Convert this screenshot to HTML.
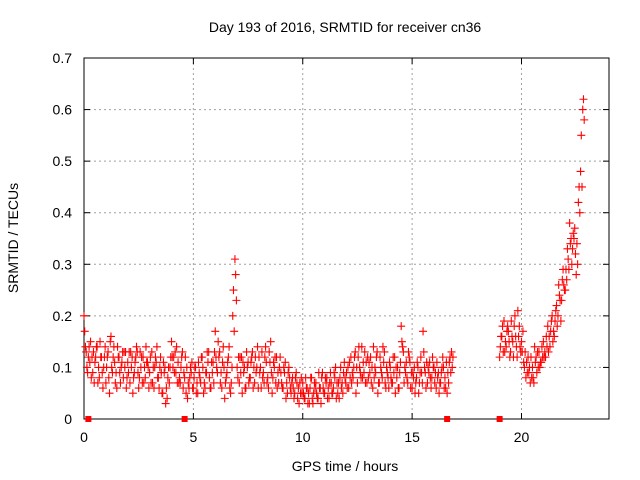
<!DOCTYPE html>
<html><head><meta charset="utf-8"><style>
body{margin:0;background:#fff}
svg{display:block;font-family:"Liberation Sans",sans-serif}
</style></head><body>
<svg id="chart" width="640" height="480" xmlns="http://www.w3.org/2000/svg">
<text x="345" y="32" text-anchor="middle" font-size="14">Day 193 of 2016, SRMTID for receiver cn36</text>
<text x="18" y="238" text-anchor="middle" font-size="14" transform="rotate(-90 18 238)">SRMTID / TECUs</text>
<text x="345" y="471" text-anchor="middle" font-size="14">GPS time / hours</text>
<g id="grid"></g>
<g id="axes"></g>
<g id="marks"></g>
</svg>
<script>
const xTicks=[0,5,10,15,20];
const yTicks=[0,0.1,0.2,0.3,0.4,0.5,0.6,0.7];
const yTickLabels=["0","0.1","0.2","0.3","0.4","0.5","0.6","0.7"];
const seg1Start=0.0;
const seg1Values=[.20,.13,.12,.15,.09,.11,.14,.08,.12,.10,
.07,.13,.15,.09,.11,.06,.12,.10,.08,.13,
.11,.07,.12,.09,.14,.06,.10,.12,.08,.11,
.09,.13,.06,.11,.08,.12,.05,.10,.04,.07,
.15,.12,.09,.11,.07,.13,.08,.10,.06,.09,
.06,.10,.05,.08,.12,.07,.09,.13,.06,.11,
.17,.09,.13,.06,.10,.08,.12,.05,.20,.31,
.10,.07,.12,.09,.06,.11,.08,.13,.07,.10,
.12,.06,.09,.14,.08,.11,.05,.10,.12,.07,
.09,.06,.11,.05,.08,.07,.04,.09,.06,.05,
.07,.04,.06,.03,.08,.05,.07,.04,.06,.09,
.05,.08,.04,.07,.06,.10,.05,.08,.07,.11,
.09,.06,.12,.08,.13,.07,.10,.14,.09,.11,
.08,.12,.06,.10,.13,.07,.09,.11,.06,.08,
.10,.07,.12,.08,.06,.18,.13,.09,.07,.11,
.06,.10,.08,.05,.12,.17,.09,.07,.11,.08,
.10,.06,.09,.07,.12,.08,.05,.11,.13];
const seg1ValuesB=[.17,.10,.14,.08,.13,.12,.07,.15,.09,.12,
.10,.08,.16,.12,.07,.14,.09,.11,.13,.06,
.09,.13,.05,.11,.13,.08,.12,.07,.14,.10,
.12,.07,.10,.14,.06,.09,.11,.03,.08,.10,
.12,.09,.14,.07,.10,.06,.12,.04,.08,.11,
.08,.05,.11,.07,.10,.06,.13,.08,.11,.07,
.12,.15,.07,.11,.04,.09,.14,.07,.25,.28,
.08,.12,.05,.10,.13,.07,.11,.06,.12,.14,
.09,.13,.07,.11,.06,.15,.08,.12,.06,.10,
.07,.10,.04,.09,.06,.08,.05,.07,.03,.08,
.05,.08,.03,.06,.04,.07,.05,.09,.03,.06,
.08,.04,.07,.05,.09,.04,.07,.10,.05,.08,
.06,.11,.07,.10,.05,.12,.09,.08,.13,.07,
.11,.07,.14,.09,.05,.12,.08,.13,.10,.06,
.08,.12,.05,.10,.09,.15,.07,.11,.13,.06,
.09,.05,.11,.07,.09,.13,.06,.10,.08,.12,
.07,.11,.05,.09,.10,.06,.09,.12,.10];
const seg1ValuesC=[.14,.09,.11,.12,.07,.14,.10,.12,.06,.14,
.12,.05,.10,.14,.09,.12,.07,.13,.10,.08,
.13,.10,.08,.12,.09,.13,.07,.10,.11,.06,
.07,.10,.12,.08,.10,.05,.09,.06,.10,.12,
.10,.13,.07,.08,.12,.09,.05,.07,.10,.06,
.10,.07,.09,.12,.05,.09,.11,.06,.09,.13,
.10,.12,.09,.14,.07,.11,.06,.10,.17,.23,
.12,.09,.11,.06,.10,.08,.12,.10,.09,.06,
.10,.08,.12,.07,.13,.09,.11,.07,.09,.12,
.06,.09,.07,.10,.05,.06,.08,.04,.07,.05,
.04,.06,.05,.08,.03,.06,.04,.06,.08,.05,
.07,.06,.09,.05,.08,.07,.04,.06,.09,.07,
.10,.08,.09,.12,.10,.14,.08,.11,.07,.12,
.09,.10,.08,.12,.07,.10,.14,.07,.09,.11,
.07,.09,.10,.06,.11,.14,.10,.08,.12,.09,
.08,.07,.10,.09,.07,.10,.11,.09,.06,.10,
.09,.08,.07,.10,.06,.11,.07,.09,.12];
const seg2Start=19.0;
const seg2Values=[.12,.16,.19,.14,.17,.13,.15,.20,.12,.18,
.15,.11,.08,.12,.07,.10,.14,.09,.13,.11,
.15,.12,.18,.14,.20,.16,.22,.26,.19,.29,
.25,.33,.38,.30,.35,.28,.42,.48,.60];
const seg2ValuesB=[.14,.18,.13,.17,.15,.19,.12,.16,.21,.14,
.13,.10,.11,.09,.12,.08,.11,.13,.10,.14,
.12,.16,.13,.17,.15,.19,.18,.24,.23,.26,
.29,.31,.34,.33,.37,.34,.45,.55,.62];
const seg2ValuesC=[.16,.13,.15,.18,.12,.16,.18,.14,.16,.13,
.17,.13,.09,.10,.08,.07,.12,.10,.11,.12,
.13,.14,.16,.19,.17,.21,.20,.23,.27,.25,
.27,.29,.35,.36,.32,.30,.40,.45,.58];
const gapHours=[0.2,4.6,16.6,19.0];
const NS="http://www.w3.org/2000/svg";
const L=84,R=609,T=58,B=419;
const xs=h=>L+(h/24)*(R-L);
const ys=v=>B-(v/0.7)*(B-T);
function mk(tag,attrs,parent){const e=document.createElementNS(NS,tag);for(const k in attrs)e.setAttribute(k,attrs[k]);parent.appendChild(e);return e;}
const grid=document.getElementById('grid'),axes=document.getElementById('axes'),marks=document.getElementById('marks');
xTicks.forEach(t=>{
 const x=xs(t);
 if(t>0){const g=mk('line',{x1:x,x2:x,y1:T,y2:B,stroke:'#a0a0a0','stroke-dasharray':'2,3'},grid);
 
 }
 mk('line',{x1:x,x2:x,y1:B,y2:B-6,stroke:'#000'},axes);
 mk('line',{x1:x,x2:x,y1:T,y2:T+6,stroke:'#000'},axes);
 const tx=mk('text',{x:x,y:B+23,'text-anchor':'middle','font-size':14},axes);tx.textContent=t;
 
 
});
yTicks.forEach((t,i)=>{
 const y=ys(t);
 if(t>0&&t<0.7){const g=mk('line',{x1:L,x2:R,y1:y,y2:y,stroke:'#a0a0a0','stroke-dasharray':'2,3'},grid);
 
 }
 mk('line',{x1:L,x2:L+6,y1:y,y2:y,stroke:'#000'},axes);
 mk('line',{x1:R,x2:R-6,y1:y,y2:y,stroke:'#000'},axes);
 const tx=mk('text',{x:L-12,y:y+5,'text-anchor':'end','font-size':14},axes);tx.textContent=yTickLabels[i];
 
 
});
mk('rect',{x:L,y:T,width:R-L,height:B-T,fill:'none',stroke:'#000'},axes);
function plus(h,v){
 const x=xs(h),y=ys(v);
 const p=mk('path',{d:`M${x-4},${y}h8M${x},${y-4}v8`,stroke:'#f00','stroke-width':1.1},marks);
 
 
}
seg1Values.forEach((v,i)=>plus(seg1Start+i*0.1,v));
seg1ValuesB.forEach((v,i)=>plus(seg1Start+0.033+i*0.1,v));
seg1ValuesC.forEach((v,i)=>plus(seg1Start+0.066+i*0.1,v));
seg2Values.forEach((v,i)=>plus(seg2Start+i*0.1,v));
seg2ValuesB.forEach((v,i)=>plus(seg2Start+0.033+i*0.1,v));
seg2ValuesC.forEach((v,i)=>plus(seg2Start+0.066+i*0.1,v));
gapHours.forEach(h=>{
 const r=mk('rect',{x:xs(h)-3,y:B-3,width:6,height:6,fill:'#f00'},marks);
 
 
});
</script>
</body></html>
